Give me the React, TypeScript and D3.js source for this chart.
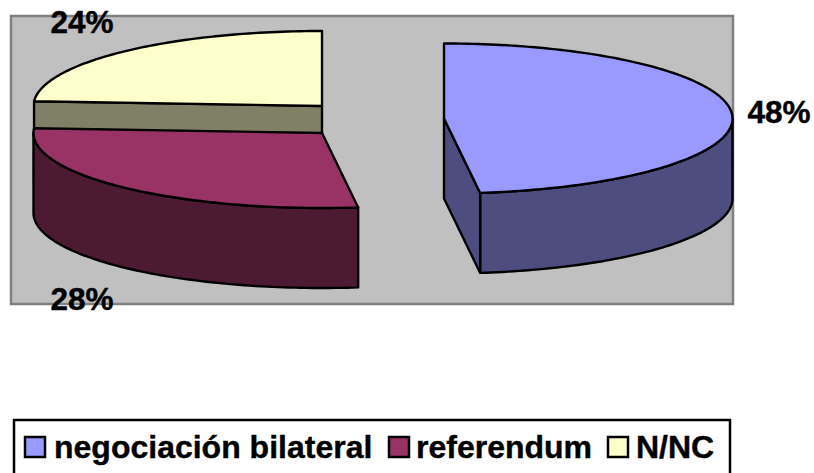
import React from "react";
import * as d3 from "d3";

const categories = ["negociación bilateral", "referendum", "N/NC"];
const shares = [48, 28, 24];
const percentLabels = ["48%", "28%", "24%"];
const topColors = ["#9999FF", "#993366", "#FFFFCC"];
const sideColors = ["#4D4D80", "#4D1A33", "#808066"];

const W = 814;
const H = 473;
const RX = 288.5;
const RY = 75;
const DEPTH = 80;
const TAU = Math.PI * 2;
// Slice apex on the page (exploded pie)
const centers: [number, number][] = [
  [444, 118.5],
  [322, 133],
  [322, 106],
];
const labelPos: [number, number][] = [
  [779, 123],
  [82, 310],
  [82, 33],
];
const legendSwatchX = [25, 389, 608];
const legendTextX = [54, 416, 636];

const arcs = d3.pie<number>().sort(null)(shares);

const xScale = d3.scaleLinear().domain([-1, 1]).range([-RX, RX]);
const yScale = d3.scaleLinear().domain([-1, 1]).range([RY, -RY]);
const lineGen = d3.line<[number, number]>();

function rimPoints(a0: number, a1: number, cx: number, cy: number): [number, number][] {
  const n = Math.max(2, Math.ceil((a1 - a0) / 0.02));
  return d3.range(n + 1).map((i) => {
    const a = a0 + ((a1 - a0) * i) / n;
    return [cx + xScale(Math.sin(a)), cy + yScale(Math.cos(a))] as [number, number];
  });
}

function Slice({ i }: { i: number }) {
  const { startAngle: a0, endAngle: a1 } = arcs[i];
  const [cx, cy] = centers[i];
  const rim = rimPoints(a0, a1, cx, cy);
  const top = lineGen([[cx, cy], ...rim]) + "Z";
  const stroke = { stroke: "#000", strokeWidth: 2.4, strokeLinejoin: "round" as const };
  const w0 = Math.max(a0, Math.PI / 2);
  const w1 = Math.min(a1, (Math.PI * 3) / 2);
  const els: React.ReactNode[] = [];
  if (w1 > w0) {
    const r = rimPoints(w0, w1, cx, cy);
    const low = r.map(([x, y]) => [x, y + DEPTH] as [number, number]).reverse();
    els.push(<path key="outer" d={lineGen([...r, ...low]) + "Z"} fill={sideColors[i]} {...stroke} />);
  }
  const wall = (a: number) => {
    const [p] = rimPoints(a, a, cx, cy);
    return lineGen([[cx, cy], p, [p[0], p[1] + DEPTH], [cx, cy + DEPTH]]) + "Z";
  };
  if (i === 0) els.push(<path key="cut" d={wall(a1 === TAU ? a0 : a1)} fill={sideColors[i]} {...stroke} />);
  if (i === 2) els.push(<path key="cut" d={wall(a0)} fill={sideColors[i]} {...stroke} />);
  return (
    <g>
      {els}
      <path d={top} fill={topColors[i]} {...stroke} />
    </g>
  );
}

export default function App() {
  return (
    <svg
      width={W}
      height={H}
      viewBox={`0 0 ${W} ${H}`}
      style={{ position: "absolute", left: 0, top: 0, display: "block" }}
      fontFamily="'Liberation Sans', Arial, sans-serif"
      fontWeight="bold"
    >
      <rect x={0} y={0} width={W} height={H} fill="#fff" />
      <rect x={11} y={16} width={722} height={288} fill="#C0C0C0" stroke="#808080" strokeWidth={2.5} />
      <Slice i={2} />
      <Slice i={1} />
      <Slice i={0} />
      {percentLabels.map((t, i) => (
        <text key={t} x={labelPos[i][0]} y={labelPos[i][1]} fontSize={31.5} textAnchor="middle" fill="#000" stroke="#000" strokeWidth={0.4}>
          {t}
        </text>
      ))}
      <rect x={14} y={420} width={716} height={80} fill="#fff" stroke="#000" strokeWidth={2.5} />
      {categories.map((c, i) => (
        <g key={c}>
          <rect x={legendSwatchX[i]} y={437} width={20} height={20} fill={topColors[i]} stroke="#000" strokeWidth={2.5} />
          <text x={legendTextX[i]} y={458} fontSize={32} fill="#000" stroke="#000" strokeWidth={0.4}>
            {c}
          </text>
        </g>
      ))}
    </svg>
  );
}
